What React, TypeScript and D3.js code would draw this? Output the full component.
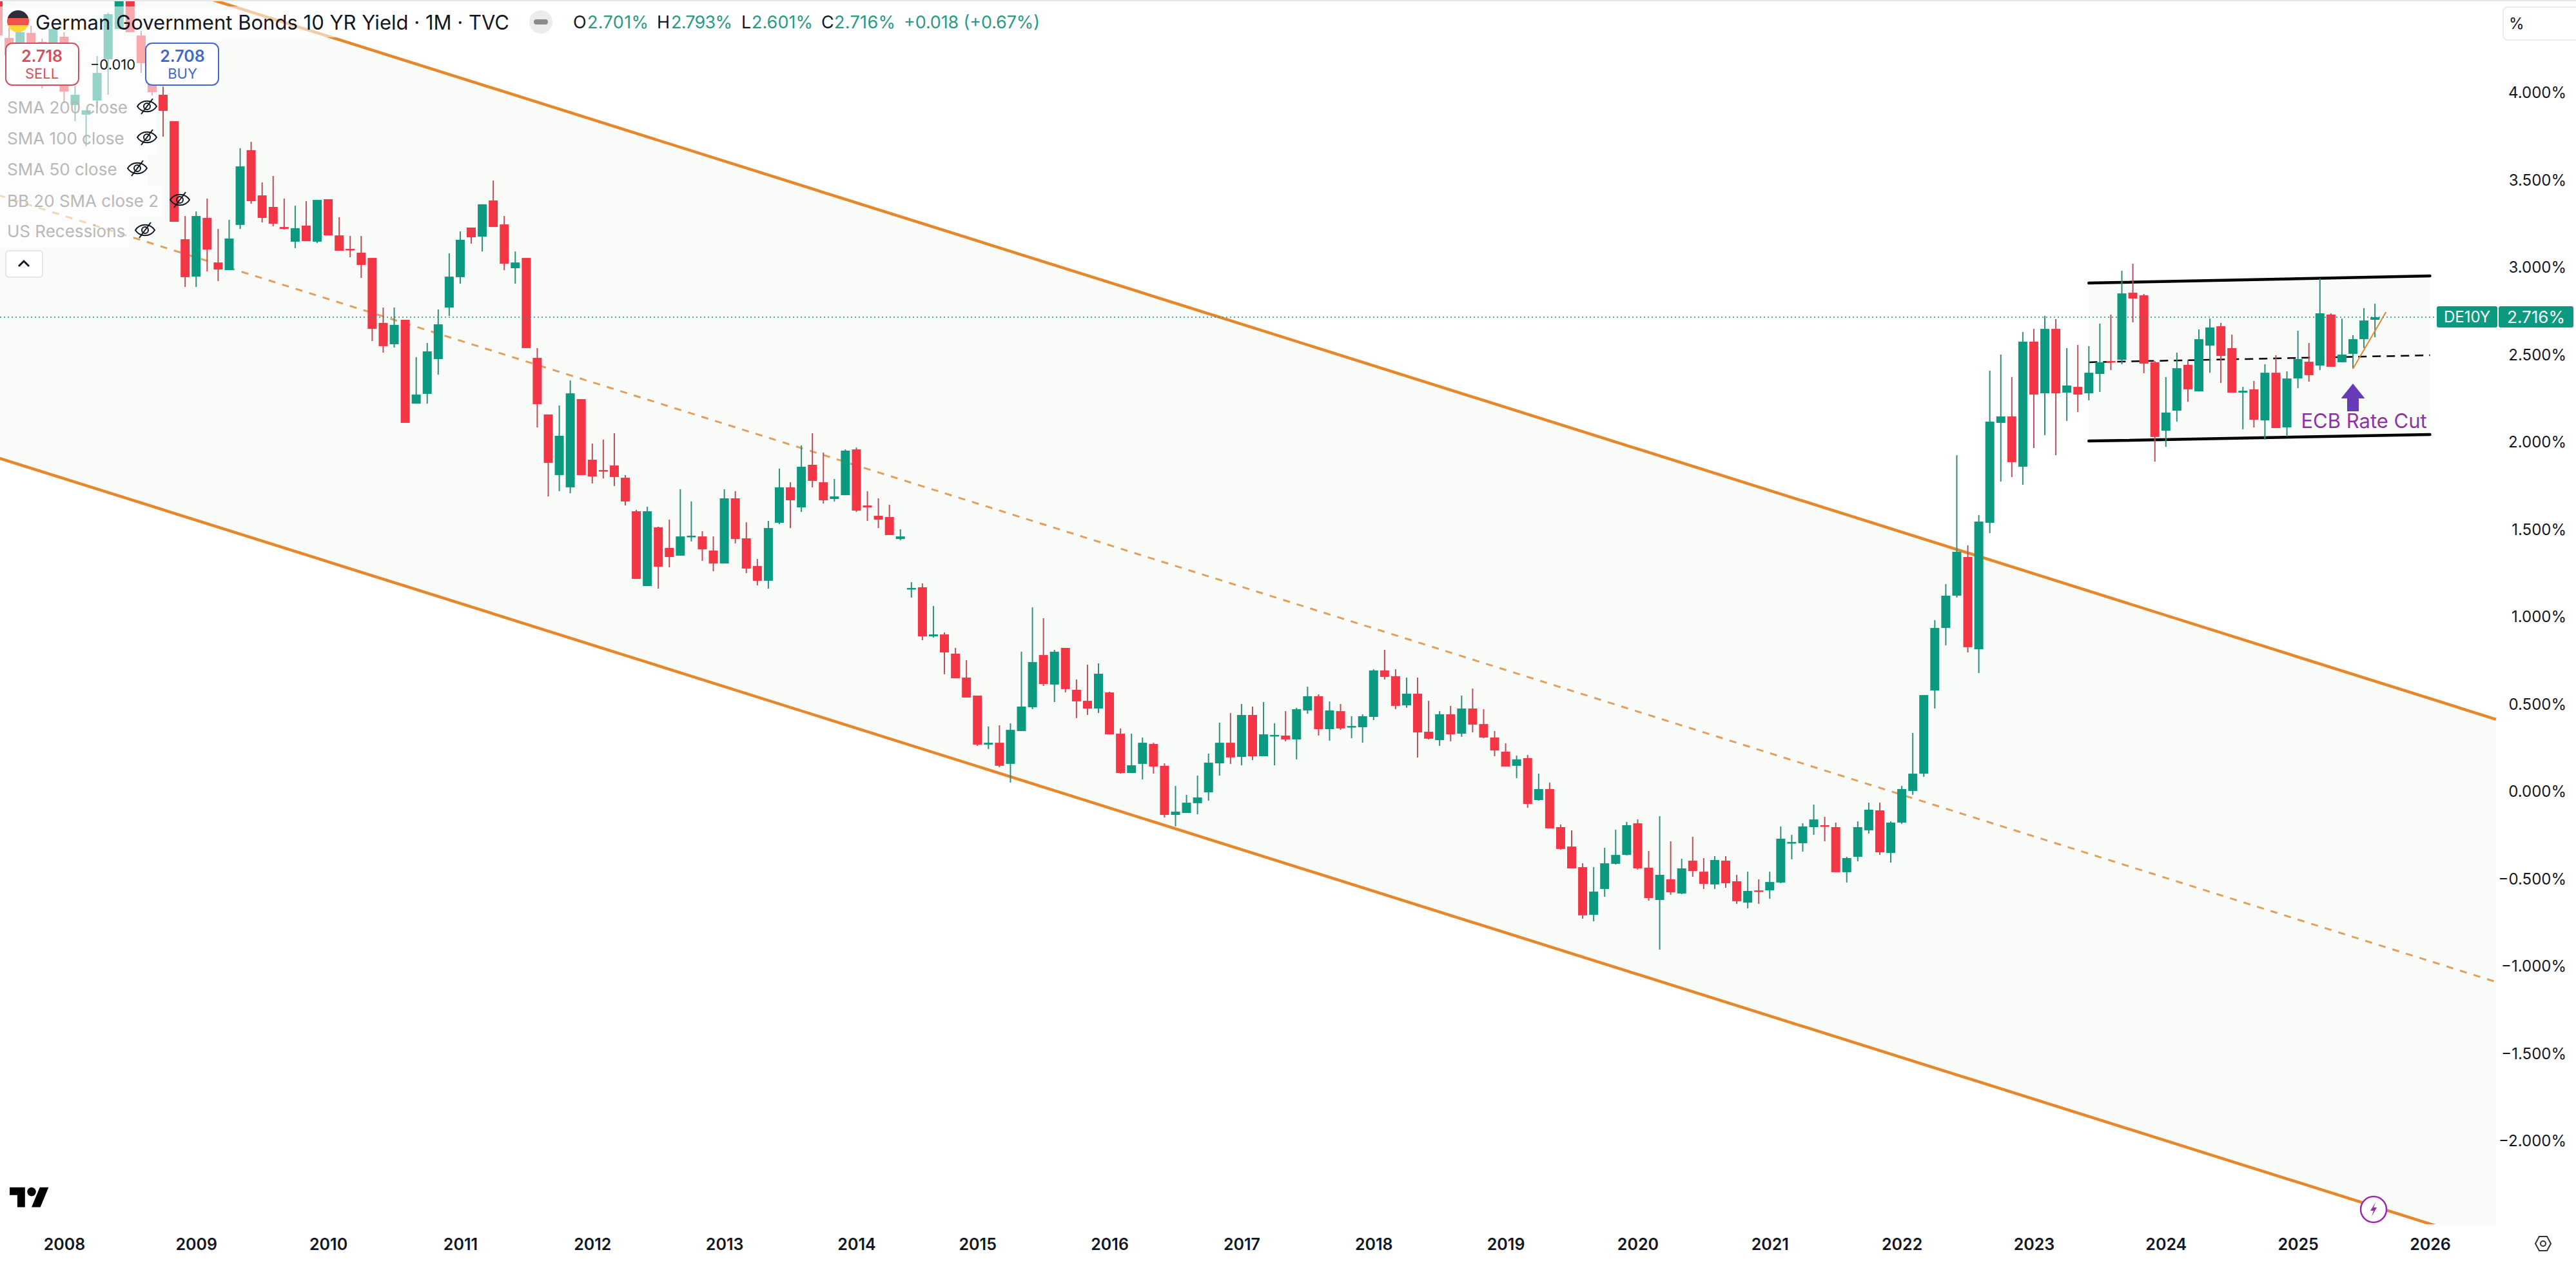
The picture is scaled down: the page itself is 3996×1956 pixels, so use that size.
import { useEffect, useRef } from "react";
import * as d3 from "d3";

const WIDTH = 3996;
const HEIGHT = 1956;
const PANE_RIGHT = 3873;
const PANE_BOTTOM = 1899;
const FONT = "Inter, 'Liberation Sans', sans-serif";

const RED = "#f23645";
const TEAL = "#0b9a80";
const RED_WICK = "#bd4f5c";
const TEAL_WICK = "#2f8f7c";
const ORANGE = "#e6872c";
const INK = "#131722";

// monthly candles, starting Jul 2007 (partly hidden under the legend)
const opens = [
  4.753, 4.314, 4.255, 4.343, 4.292, 4.162, 4.321, 3.93, 3.875, 3.956,
  4.192, 4.365, 4.679, 4.328, 4.162, 3.989, 3.838, 3.162, 2.948, 3.284,
  3.029, 2.985, 3.244, 3.672, 3.413, 3.347, 3.232, 3.148, 3.24, 3.148,
  3.391, 3.184, 3.107, 3.085, 3.055, 2.683, 2.561, 2.701, 2.221, 2.277,
  2.476, 2.771, 2.945, 3.229, 3.177, 3.384, 3.247, 2.996, 3.055, 2.483,
  2.159, 1.812, 1.742, 2.247, 1.9, 1.841, 1.867, 1.797, 1.605, 1.177,
  1.513, 1.395, 1.351, 1.458, 1.461, 1.38, 1.306, 1.679, 1.45, 1.292,
  1.207, 1.539, 1.742, 1.627, 1.871, 1.771, 1.675, 1.697, 1.959, 1.638,
  1.579, 1.572, 1.446, 1.159, 1.17, 0.889, 0.9, 0.79, 0.653, 0.55,
  0.269, 0.28, 0.159, 0.347, 0.483, 0.782, 0.613, 0.823, 0.583, 0.52,
  0.476, 0.568, 0.332, 0.107, 0.159, 0.273, 0.148, -0.133, -0.122, -0.066,
  -0.004, 0.162, 0.28, 0.199, 0.439, 0.203, 0.317, 0.321, 0.299, 0.465,
  0.546, 0.358, 0.461, 0.369, 0.369, 0.428, 0.694, 0.661, 0.494, 0.561,
  0.343, 0.295, 0.443, 0.332, 0.476, 0.387, 0.31, 0.229, 0.148, 0.192,
  -0.048, 0.015, -0.203, -0.314, -0.432, -0.705, -0.557, -0.413, -0.362, -0.181,
  -0.435, -0.62, -0.502, -0.583, -0.395, -0.458, -0.531, -0.395, -0.513, -0.635,
  -0.565, -0.565, -0.52, -0.295, -0.295, -0.203, -0.192, -0.203, -0.461, -0.373,
  -0.221, -0.107, -0.351, -0.177, 0.004, 0.103, 0.579, 0.937, 1.122, 1.343,
  0.815, 1.539, 2.111, 2.148, 1.86, 2.576, 2.28, 2.649, 2.284, 2.317,
  2.28, 2.391, 2.465, 2.472, 2.856, 2.841, 2.458, 2.066, 2.181, 2.443,
  2.291, 2.553, 2.664, 2.539, 2.284, 2.303, 2.125, 2.398, 2.085, 2.365,
  2.461, 2.439, 2.731, 2.458, 2.506, 2.59, 2.701,
];

const highs = [
  4.827, 4.373, 4.402, 4.384, 4.31, 4.384, 4.347, 4.041, 3.9, 4.21,
  4.458, 4.679, 4.716, 4.354, 4.181, 4.041, 3.838, 3.295, 3.321, 3.395,
  3.221, 3.273, 3.683, 3.72, 3.487, 3.524, 3.395, 3.354, 3.38, 3.387,
  3.391, 3.288, 3.181, 3.181, 3.055, 2.771, 2.771, 2.701, 2.487, 2.568,
  2.76, 3.081, 3.207, 3.229, 3.362, 3.498, 3.295, 3.092, 3.055, 2.539,
  2.159, 2.21, 2.354, 2.247, 1.993, 2.015, 2.052, 1.812, 1.613, 1.631,
  1.517, 1.557, 1.731, 1.661, 1.491, 1.461, 1.731, 1.72, 1.542, 1.332,
  1.55, 1.849, 1.771, 1.982, 2.052, 1.941, 1.79, 1.959, 1.97, 1.72,
  1.679, 1.642, 1.502, 1.199, 1.192, 1.063, 0.911, 0.823, 0.753, 0.55,
  0.373, 0.38, 0.391, 0.801, 1.055, 0.993, 0.812, 0.823, 0.642, 0.727,
  0.734, 0.572, 0.362, 0.332, 0.31, 0.28, 0.162, 0.033, -0.018, 0.092,
  0.218, 0.395, 0.45, 0.502, 0.487, 0.513, 0.391, 0.461, 0.48, 0.601,
  0.557, 0.517, 0.502, 0.432, 0.443, 0.701, 0.812, 0.701, 0.653, 0.653,
  0.52, 0.461, 0.491, 0.55, 0.59, 0.472, 0.347, 0.277, 0.207, 0.21,
  0.103, 0.052, -0.188, -0.221, -0.41, -0.432, -0.321, -0.218, -0.173, -0.159,
  -0.339, -0.14, -0.284, -0.384, -0.258, -0.38, -0.369, -0.369, -0.476, -0.458,
  -0.502, -0.458, -0.199, -0.247, -0.181, -0.074, -0.144, -0.177, -0.373, -0.17,
  -0.063, -0.063, -0.17, 0.033, 0.336, 0.553, 0.982, 1.188, 1.926, 1.41,
  1.583, 2.41, 2.502, 2.373, 2.631, 2.649, 2.723, 2.705, 2.539, 2.557,
  2.55, 2.679, 2.731, 2.982, 3.022, 2.849, 2.465, 2.373, 2.513, 2.472,
  2.646, 2.708, 2.683, 2.616, 2.317, 2.351, 2.446, 2.498, 2.406, 2.638,
  2.568, 2.937, 2.738, 2.708, 2.613, 2.768, 2.793,
];

const lows = [
  4.31, 4.181, 4.218, 4.162, 4.026, 4.125, 3.941, 3.838, 3.694, 3.915,
  3.989, 4.365, 4.347, 4.114, 3.985, 3.749, 3.262, 2.889, 2.889, 2.978,
  2.922, 2.985, 3.221, 3.365, 3.258, 3.236, 3.218, 3.111, 3.151, 3.14,
  3.184, 3.096, 3.059, 2.941, 2.579, 2.513, 2.542, 2.111, 2.221, 2.221,
  2.387, 2.723, 2.908, 3.137, 3.092, 3.232, 2.985, 2.908, 2.539, 2.085,
  1.69, 1.72, 1.708, 1.812, 1.764, 1.793, 1.749, 1.638, 1.218, 1.177,
  1.162, 1.284, 1.351, 1.432, 1.321, 1.262, 1.306, 1.421, 1.251, 1.181,
  1.162, 1.531, 1.509, 1.601, 1.742, 1.649, 1.661, 1.697, 1.601, 1.55,
  1.509, 1.469, 1.439, 1.111, 0.867, 0.882, 0.672, 0.649, 0.539, 0.262,
  0.244, 0.14, 0.052, 0.347, 0.472, 0.605, 0.513, 0.568, 0.421, 0.439,
  0.45, 0.328, 0.103, 0.107, 0.07, 0.103, -0.148, -0.199, -0.122, -0.129,
  -0.052, 0.092, 0.159, 0.151, 0.181, 0.203, 0.151, 0.288, 0.185, 0.446,
  0.321, 0.292, 0.354, 0.306, 0.28, 0.41, 0.642, 0.472, 0.48, 0.196,
  0.299, 0.262, 0.288, 0.314, 0.339, 0.306, 0.203, 0.144, 0.077, -0.092,
  -0.052, -0.21, -0.332, -0.439, -0.727, -0.742, -0.601, -0.417, -0.365, -0.446,
  -0.624, -0.904, -0.59, -0.587, -0.487, -0.557, -0.557, -0.55, -0.642, -0.668,
  -0.642, -0.613, -0.524, -0.387, -0.343, -0.247, -0.284, -0.461, -0.52, -0.399,
  -0.24, -0.362, -0.406, -0.185, -0.018, 0.085, 0.476, 0.838, 1.111, 0.797,
  0.679, 1.48, 1.775, 1.801, 1.756, 1.967, 2.041, 1.926, 2.122, 2.173,
  2.24, 2.288, 2.413, 2.446, 2.686, 2.395, 1.889, 1.974, 2.118, 2.232,
  2.291, 2.398, 2.339, 2.284, 2.074, 2.085, 2.015, 2.081, 2.033, 2.31,
  2.347, 2.413, 2.432, 2.458, 2.421, 2.539, 2.601,
];

const closes = [
  4.328, 4.214, 4.347, 4.236, 4.107, 4.365, 4.007, 3.989, 3.9, 4.114,
  4.45, 4.642, 4.347, 4.17, 4.004, 3.897, 3.262, 2.945, 3.295, 3.103,
  2.989, 3.166, 3.579, 3.38, 3.284, 3.251, 3.221, 3.225, 3.151, 3.387,
  3.184, 3.096, 3.1, 3.015, 2.649, 2.55, 2.672, 2.111, 2.273, 2.52,
  2.675, 2.948, 3.159, 3.173, 3.362, 3.232, 3.022, 3.029, 2.539, 2.218,
  1.882, 2.037, 2.28, 1.812, 1.804, 1.834, 1.801, 1.661, 1.218, 1.605,
  1.288, 1.343, 1.461, 1.465, 1.387, 1.306, 1.679, 1.446, 1.277, 1.207,
  1.509, 1.742, 1.668, 1.86, 1.779, 1.668, 1.69, 1.952, 1.609, 1.627,
  1.557, 1.469, 1.461, 1.166, 0.889, 0.9, 0.797, 0.649, 0.539, 0.269,
  0.28, 0.148, 0.354, 0.487, 0.742, 0.616, 0.801, 0.587, 0.517, 0.476,
  0.675, 0.328, 0.107, 0.151, 0.28, 0.144, -0.133, -0.114, -0.063, -0.033,
  0.166, 0.28, 0.196, 0.439, 0.203, 0.328, 0.325, 0.299, 0.472, 0.546,
  0.358, 0.465, 0.362, 0.376, 0.432, 0.694, 0.657, 0.491, 0.561, 0.339,
  0.303, 0.443, 0.328, 0.476, 0.384, 0.31, 0.236, 0.144, 0.185, -0.07,
  0.015, -0.21, -0.328, -0.439, -0.708, -0.572, -0.41, -0.362, -0.192, -0.439,
  -0.609, -0.476, -0.576, -0.439, -0.454, -0.528, -0.391, -0.524, -0.627, -0.568,
  -0.572, -0.517, -0.269, -0.288, -0.199, -0.159, -0.199, -0.461, -0.38, -0.203,
  -0.103, -0.347, -0.177, 0.015, 0.103, 0.553, 0.937, 1.122, 1.373, 0.827,
  1.546, 2.118, 2.148, 1.886, 2.576, 2.273, 2.649, 2.28, 2.325, 2.273,
  2.398, 2.458, 2.461, 2.852, 2.823, 2.45, 2.03, 2.17, 2.424, 2.303,
  2.59, 2.657, 2.494, 2.284, 2.295, 2.129, 2.398, 2.081, 2.365, 2.476,
  2.384, 2.738, 2.432, 2.502, 2.59, 2.697, 2.716,
];

const yearLabels = [
  "2008", "2009", "2010", "2011", "2012", "2013", "2014", "2015", "2016", "2017",
  "2018", "2019", "2020", "2021", "2022", "2023", "2024", "2025", "2026",
];
// bar index of each January (one month is missing in 2014)
const yearBars = [6, 18, 30, 42, 54, 66, 78, 89, 101, 113, 125, 137, 149, 161, 173, 185, 197, 209, 221];
const yieldTicks = [4, 3.5, 3, 2.5, 2, 1.5, 1, 0.5, 0, -0.5, -1, -1.5, -2];

// trend lines as [bar, yield] anchor pairs
const channelUpper: [number, number][] = [[0, 4.919], [227, 0.414]];
const channelMiddle: [number, number][] = [[0, 3.415], [227, -1.089]];
const channelLower: [number, number][] = [[0, 1.911], [227, -2.593]];
const rangeTop: [number, number][] = [[190, 2.911], [221, 2.952]];
const rangeMiddle: [number, number][] = [[190, 2.458], [221, 2.498]];
const rangeBottom: [number, number][] = [[190, 2.007], [221, 2.044]];
const recentTrend: [number, number][] = [[214, 2.421], [217, 2.745]];

const legendRows = ["SMA 200 close", "SMA 100 close", "SMA 50 close", "BB 20 SMA close 2", "US Recessions"];
const legendEyeX = [228, 228, 213, 279, 225];
const legendTextY = [167, 215, 263, 312, 359];

const xScale = d3.scaleLinear().domain([0, 216]).range([-3, -3 + 216 * 17.07]);
const yScale = d3.scaleLinear().domain([4, -2]).range([144, 1770]);

const lineGen = d3
  .line<[number, number]>()
  .x((d) => xScale(d[0]))
  .y((d) => yScale(d[1]));

const bandPath = (top: [number, number][], bottom: [number, number][]) => {
  const area = d3
    .area<number>()
    .x((_, i) => xScale(top[i][0]))
    .y0((_, i) => yScale(bottom[i][1]))
    .y1((_, i) => yScale(top[i][1]));
  return area([0, 1]) ?? "";
};

const fmt = d3.format(".3f");

const Eye = ({ x, y }: { x: number; y: number }) => (
  <g transform={`translate(${x},${y})`} fill="none" stroke={INK} strokeWidth={2}>
    <path d="M-15,0 C-8,-11 8,-11 15,0 C8,11 -8,11 -15,0 Z" />
    <circle r={5} />
    <line x1={-9} y1={12} x2={9} y2={-12} />
  </g>
);

export default function App() {
  const yAxisRef = useRef<SVGGElement>(null);
  const xAxisRef = useRef<SVGGElement>(null);
  const last = closes.length - 1;
  const lastY = yScale(closes[last]);

  // Axes through d3, restyled to drop the domain and ticks
  useEffect(() => {
    const yAxis = d3
      .axisRight(yScale)
      .tickValues(yieldTicks)
      .tickSize(0)
      .tickPadding(0)
      .tickFormat((d) => `${fmt(d as number).replace("-", "\u2212")}%`);
    const yG = d3.select(yAxisRef.current!);
    yG.call(yAxis as any);
    yG.select(".domain").remove();
    yG.attr("font-size", 24).attr("font-family", FONT).attr("text-anchor", "end");
    yG.selectAll("text").attr("fill", INK);

    const xAxis = d3
      .axisBottom(xScale)
      .tickValues(yearBars)
      .tickSize(0)
      .tickPadding(0)
      .tickFormat((_, i) => yearLabels[i]);
    const xG = d3.select(xAxisRef.current!);
    xG.call(xAxis as any);
    xG.select(".domain").remove();
    xG.attr("font-size", 25).attr("font-family", FONT).attr("font-weight", 600);
    xG.selectAll("text").attr("fill", INK);
  }, []);

  const ohlc = [
    { key: "O", x: 889, vx: 911, value: opens[last] },
    { key: "H", x: 1019, vx: 1041, value: highs[last] },
    { key: "L", x: 1150, vx: 1166, value: lows[last] },
    { key: "C", x: 1274, vx: 1294, value: closes[last] },
  ];

  const arrowX = xScale(214);
  const arrowTip = yScale(2.336);
  const arrowBase = yScale(2.177);

  return (
    <svg
      width={WIDTH}
      height={HEIGHT}
      style={{ position: "absolute", top: 0, left: 0, display: "block", background: "#fff" }}
      fontFamily={FONT}
    >
      <defs>
        <clipPath id="pane">
          <rect x={0} y={2} width={PANE_RIGHT} height={PANE_BOTTOM - 2} />
        </clipPath>
        <clipPath id="flag">
          <circle cx={28} cy={33} r={17} />
        </clipPath>
      </defs>
      <rect x={0} y={0} width={WIDTH} height={2} fill="#e6e6e6" />

      <g clipPath="url(#pane)">
        <path d={bandPath(channelUpper, channelLower)} fill="#f9fbf9" />
        <path d={bandPath(rangeTop, rangeBottom)} fill="#f9fbf9" />

        <path d={lineGen(channelUpper) ?? ""} stroke={ORANGE} strokeWidth={4.5} fill="none" />
        <path d={lineGen(channelLower) ?? ""} stroke={ORANGE} strokeWidth={4.5} fill="none" />
        <path
          d={lineGen(channelMiddle) ?? ""}
          stroke="#e2a05e"
          strokeWidth={3}
          strokeDasharray="11 11"
          fill="none"
        />
        <path d={lineGen(rangeTop) ?? ""} stroke="#000" strokeWidth={4.5} strokeLinecap="round" fill="none" />
        <path d={lineGen(rangeBottom) ?? ""} stroke="#000" strokeWidth={4.5} strokeLinecap="round" fill="none" />
        <path d={lineGen(rangeMiddle) ?? ""} stroke="#000" strokeWidth={2.5} strokeDasharray="13 9" fill="none" />

        {closes.map((close, i) => {
          const open = opens[i];
          const up = close >= open;
          const top = yScale(Math.max(open, close));
          const h = Math.max(yScale(Math.min(open, close)) - top, 2.5);
          const x = xScale(i);
          return (
            <g key={i}>
              <line
                x1={x}
                x2={x}
                y1={yScale(highs[i])}
                y2={yScale(lows[i])}
                stroke={up ? TEAL_WICK : RED_WICK}
                strokeWidth={2}
              />
              <rect x={x - 7} y={top} width={14} height={h} fill={up ? TEAL : RED} />
            </g>
          );
        })}

        <path d={lineGen(recentTrend) ?? ""} stroke={ORANGE} strokeWidth={2} fill="none" />
        <line
          x1={0}
          x2={3780}
          y1={lastY}
          y2={lastY}
          stroke={TEAL}
          strokeWidth={1.5}
          strokeDasharray="2 4"
        />
        <path
          d={`M${arrowX},${arrowTip} L${arrowX + 18.5},${arrowTip + 23} L${arrowX + 9},${arrowTip + 23} L${arrowX + 9},${arrowBase} L${arrowX - 9},${arrowBase} L${arrowX - 9},${arrowTip + 23} L${arrowX - 18.5},${arrowTip + 23} Z`}
          fill="#673ab7"
        />
        <text x={xScale(215)} y={yScale(2.122)} dy="0.35em" textAnchor="middle" fontSize={31} fill="#9131a8">
          ECB Rate Cut
        </text>
      </g>

      {/* legend backdrops fade whatever sits behind them */}
      <g fill="#fff" fillOpacity={0.57}>
        <rect x={0} y={10} width={1640} height={48} />
        <rect x={0} y={58} width={345} height={77} />
        <rect x={0} y={135} width={245} height={55} />
        <rect x={0} y={190} width={245} height={50} />
        <rect x={0} y={240} width={230} height={48} />
        <rect x={0} y={288} width={250} height={48} />
        <rect x={0} y={336} width={200} height={48} />
      </g>

      <g clipPath="url(#flag)">
        <rect x={11} y={16} width={34} height={12} fill="#2c2f3b" />
        <rect x={11} y={28} width={34} height={11} fill="#ee5350" />
        <rect x={11} y={39} width={34} height={11} fill="#fdd835" />
      </g>
      <text x={55} y={35} dy="0.35em" fontSize={31} fill={INK} textLength={735}>
        German Government Bonds 10 YR Yield · 1M · TVC
      </text>
      <ellipse cx={839} cy={34} rx={18} ry={18} fill="#ececec" />
      <rect x={828} y={30} width={22} height={8} rx={4} fill="#8a8a8a" />

      {ohlc.map((d) => (
        <g key={d.key} fontSize={27}>
          <text x={d.x} y={35} dy="0.35em" fill={INK}>
            {d.key}
          </text>
          <text x={d.vx} y={35} dy="0.35em" fill="#2a9a84" textLength={95}>
            {fmt(d.value)}%
          </text>
        </g>
      ))}
      <text x={1402} y={35} dy="0.35em" fontSize={27} fill="#2a9a84" textLength={211}>
        +0.018 (+0.67%)
      </text>

      <rect x={9} y={67} width={113} height={65} rx={10} fill="#fff" stroke="#cf5060" strokeWidth={2} />
      <text x={65} y={87} dy="0.35em" textAnchor="middle" fontSize={25} fontWeight={600} fill="#d5505c">
        2.718
      </text>
      <text x={65} y={114} dy="0.35em" textAnchor="middle" fontSize={22} fill="#d5505c">
        SELL
      </text>
      <text x={175} y={100} dy="0.35em" textAnchor="middle" fontSize={22} fill={INK}>
        {"\u22120.010"}
      </text>
      <rect x={226} y={67} width={113} height={65} rx={10} fill="#fff" stroke="#4368cc" strokeWidth={2} />
      <text x={283} y={87} dy="0.35em" textAnchor="middle" fontSize={25} fontWeight={600} fill="#4368cc">
        2.708
      </text>
      <text x={283} y={114} dy="0.35em" textAnchor="middle" fontSize={22} fill="#4368cc">
        BUY
      </text>

      {legendRows.map((row, i) => (
        <g key={row}>
          <text x={11} y={legendTextY[i]} dy="0.35em" fontSize={26} fill="#b8b8b8">
            {row}
          </text>
          <Eye x={legendEyeX[i]} y={legendTextY[i] - 2} />
        </g>
      ))}

      <rect x={9} y={389} width={57} height={41} rx={5} fill="#fff" stroke="#e0e0e0" strokeWidth={1.5} />
      <path d="M29,413 L37,405 L45,413" fill="none" stroke={INK} strokeWidth={3} />

      {/* last price tags */}
      <rect x={3780} y={475} width={94} height={33} rx={3} fill={TEAL} />
      <text x={3827} y={lastY} dy="0.35em" textAnchor="middle" fontSize={24} fill="#fff">
        DE10Y
      </text>
      <rect x={3876} y={475} width={116} height={33} rx={3} fill={TEAL} />
      <text x={3934} y={lastY} dy="0.35em" textAnchor="middle" fontSize={26} fill="#fff">
        {fmt(closes[last])}%
      </text>

      <g ref={yAxisRef} transform="translate(3981,0)" />
      <g ref={xAxisRef} transform="translate(0,1921)" />

      <rect x={3883} y={11} width={130} height={51} rx={7} fill="#fff" stroke="#ececec" strokeWidth={2} />
      <text x={3892} y={37} dy="0.35em" fontSize={24} fill={INK}>
        %
      </text>

      {/* TradingView mark */}
      <g transform="translate(15,1835) scale(1.7)" fill="#000">
        <path d="M14 22H7V11H0V4h14v18zM28 22h-8l7.5-18h8L28 22z" />
        <circle cx={20} cy={8} r={4} />
      </g>

      <g transform="translate(3682,1876)">
        <circle r={20} fill="#fff" stroke="#9c27b0" strokeWidth={2.5} />
        <path d="M3,-11 L-5,2 L0,2 L-3,11 L5,-3 L0,-3 Z" fill="#9c27b0" />
      </g>

      <g transform="translate(3945,1929)" fill="none" stroke="#333" strokeWidth={2}>
        <path d="M-6,-11 L6,-11 L12,0 L6,11 L-6,11 L-12,0 Z" />
        <circle r={4} />
      </g>
    </svg>
  );
}
